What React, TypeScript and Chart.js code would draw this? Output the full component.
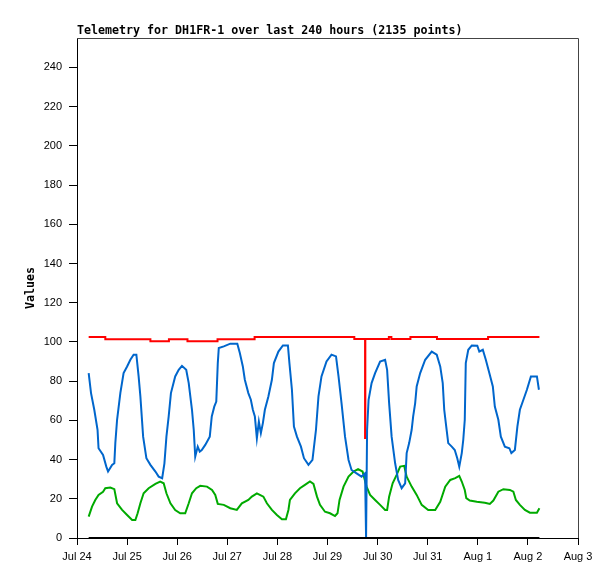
import React, { useEffect, useRef } from "react";
import { Chart, registerables } from "chart.js";

Chart.register(...registerables);

const TITLE = "Telemetry for DH1FR-1 over last 240 hours (2135 points)";
const Y_TITLE = "Values";
const X_LABELS = ["Jul 24", "Jul 25", "Jul 26", "Jul 27", "Jul 28", "Jul 29", "Jul 30", "Jul 31", "Aug 1", "Aug 2", "Aug 3"];
const Y_MIN = 0;
const Y_MAX = 255;
const Y_STEP = 20;

// x = days since Jul 24 00:00
const blueDays = [0.233, 0.28, 0.345, 0.41, 0.43, 0.52, 0.585, 0.62, 0.7, 0.745, 0.765, 0.8, 0.865, 0.93, 1.0, 1.065, 1.13, 1.185, 1.23, 1.265, 1.32, 1.385, 1.465, 1.565, 1.63, 1.7, 1.745, 1.785, 1.83, 1.875, 1.96, 2.03, 2.095, 2.18, 2.23, 2.295, 2.33, 2.36, 2.41, 2.45, 2.49, 2.56, 2.65, 2.69, 2.74, 2.78, 2.81, 2.83, 2.93, 3.06, 3.2, 3.25, 3.31, 3.35, 3.42, 3.47, 3.51, 3.55, 3.59, 3.63, 3.67, 3.71, 3.75, 3.82, 3.89, 3.93, 4.02, 4.11, 4.21, 4.24, 4.29, 4.33, 4.39, 4.47, 4.53, 4.62, 4.7, 4.77, 4.82, 4.88, 4.98, 5.08, 5.17, 5.22, 5.28, 5.35, 5.42, 5.48, 5.58, 5.68, 5.75, 5.77, 5.79, 5.82, 5.88, 5.95, 6.05, 6.15, 6.19, 6.23, 6.28, 6.35, 6.41, 6.48, 6.55, 6.58, 6.63, 6.68, 6.71, 6.75, 6.78, 6.85, 6.95, 7.08, 7.18, 7.25, 7.3, 7.33, 7.37, 7.41, 7.48, 7.54, 7.59, 7.63, 7.68, 7.71, 7.74, 7.76, 7.81, 7.88, 7.99, 8.03, 8.1, 8.16, 8.23, 8.3, 8.34, 8.41, 8.46, 8.54, 8.63, 8.67, 8.74, 8.79, 8.84, 8.91, 8.98, 9.06, 9.18, 9.22];
const blueValues = [84.1, 73.9, 65.4, 55.2, 45.8, 42.4, 36.4, 33.9, 37.3, 38.1, 48.4, 60.3, 73.9, 84.1, 87.5, 90.9, 93.5, 93.5, 82.4, 72.2, 51.7, 40.7, 37.3, 33.9, 31.3, 30.5, 38.1, 51.7, 62, 73.9, 82.4, 85.8, 87.8, 85.8, 79, 65.4, 55.2, 41.5, 46.6, 44.1, 44.9, 47.5, 51.7, 62, 67, 69.6, 89.2, 96.9, 97.7, 99.1, 99.1, 94.3, 87.5, 80.7, 73.9, 70.5, 65.4, 62, 50.9, 59.4, 53.5, 58.6, 65.4, 72.2, 80.7, 89.2, 95.1, 98.2, 98.2, 89.2, 75.6, 56.8, 51.7, 46.6, 40.7, 37.3, 39.8, 55.2, 72.2, 82.4, 90, 93.5, 92.6, 82.4, 68.8, 51.7, 39.8, 34.7, 33, 31.3, 33, 0, 55, 70.5, 79, 84.1, 90, 90.9, 85.8, 68.8, 51.7, 38.1, 29.6, 25.4, 27.9, 43.3, 48.4, 55.2, 62, 68.8, 77.3, 84.1, 90.9, 95.1, 93.5, 87.5, 79, 65.4, 56.8, 48.4, 46.6, 44.9, 40.7, 36.4, 43.3, 50.1, 60.3, 89.2, 96, 98.2, 98.1, 95.1, 96, 90.9, 84.1, 77.3, 67, 60.3, 51.7, 46.6, 45.8, 43.3, 44.9, 56.8, 65.4, 70.5, 75.6, 82.4, 82.4, 75.6];

const greenDays = [0.233, 0.3, 0.365, 0.43, 0.52, 0.565, 0.665, 0.745, 0.8, 0.9, 1.0, 1.1, 1.165, 1.21, 1.265, 1.33, 1.43, 1.565, 1.66, 1.73, 1.785, 1.865, 1.96, 2.06, 2.16, 2.23, 2.295, 2.38, 2.46, 2.595, 2.695, 2.76, 2.81, 2.93, 3.06, 3.19, 3.29, 3.42, 3.49, 3.59, 3.65, 3.72, 3.79, 3.89, 3.99, 4.09, 4.17, 4.22, 4.25, 4.35, 4.45, 4.55, 4.65, 4.72, 4.79, 4.85, 4.95, 5.05, 5.15, 5.2, 5.24, 5.32, 5.42, 5.52, 5.61, 5.7, 5.78, 5.85, 5.95, 6.05, 6.15, 6.19, 6.23, 6.3, 6.38, 6.45, 6.53, 6.58, 6.68, 6.78, 6.88, 7.01, 7.15, 7.25, 7.35, 7.45, 7.55, 7.63, 7.68, 7.74, 7.77, 7.84, 7.98, 8.14, 8.24, 8.31, 8.41, 8.51, 8.64, 8.71, 8.76, 8.84, 8.94, 9.04, 9.18, 9.23];
const greenValues = [10.9, 16, 19.4, 22, 23.6, 25.4, 25.7, 24.9, 17.7, 14.3, 11.7, 9.2, 9.2, 12.6, 17.7, 22.8, 25.4, 27.6, 28.8, 27.9, 22.8, 17.7, 14.3, 12.6, 12.6, 17.7, 22.8, 25.4, 26.6, 26.2, 24.5, 22, 17.4, 16.9, 15.2, 14.3, 17.7, 19.4, 21.1, 22.8, 22, 21.1, 17.7, 14.3, 11.7, 9.5, 9.5, 14.3, 19.4, 22.8, 25.4, 27.1, 28.8, 27.6, 21.1, 16.9, 13.4, 12.6, 11.2, 12.6, 19.4, 26.2, 31.3, 33.9, 35.1, 33.9, 26.2, 22, 19.4, 16.9, 14.3, 14.3, 21.1, 27.9, 32.2, 36.4, 36.8, 31.3, 26.2, 22, 16.9, 14.3, 14.3, 18.5, 26.2, 29.6, 30.5, 31.7, 28.8, 24.5, 20.3, 19.1, 18.5, 18, 17.4, 19.1, 23.6, 24.9, 24.5, 23.6, 19.4, 16.9, 14.3, 12.9, 12.9, 15.2];

// stepped series: each value holds from its x until the next x
const redDays = [0.233, 0.565, 1.465, 1.835, 2.205, 2.805, 3.545, 5.535, 5.75, 5.755, 6.225, 6.275, 6.655, 7.185, 8.205, 9.23];
const redValues = [102.5, 101.3, 100.3, 101.3, 100.3, 101.3, 102.5, 101.5, 51, 101.5, 102.5, 101.5, 102.5, 101.5, 102.5, 102.5];

const blackDays = [0.233, 9.23];
const blackValues = [0, 0];

const toPoints = (xs: number[], ys: number[]) => xs.map((x, i) => ({ x, y: ys[i] }));

const TICK_FONT = { family: '"Liberation Sans", Arial, sans-serif', size: 11 };
const LABEL_FONT = 'bold 11.65px "DejaVu Sans Mono", "Liberation Mono", monospace';

const decorPlugin = {
  id: "decor",
  afterDraw(chart: any) {
    const { ctx, chartArea } = chart;
    const { left, right, top, bottom } = chartArea;
    ctx.save();
    ctx.strokeStyle = "#444444";
    ctx.lineWidth = 1;
    ctx.beginPath();
    ctx.moveTo(left, Math.round(top) + 0.5);
    ctx.lineTo(Math.round(right) + 0.5, Math.round(top) + 0.5);
    ctx.lineTo(Math.round(right) + 0.5, bottom);
    ctx.stroke();

    ctx.fillStyle = "#000";
    ctx.font = LABEL_FONT;
    ctx.textAlign = "left";
    ctx.textBaseline = "alphabetic";
    ctx.fillText(TITLE, left, top - 4);

    ctx.translate(31, (top + bottom) / 2);
    ctx.rotate(-Math.PI / 2);
    ctx.textAlign = "center";
    ctx.textBaseline = "middle";
    ctx.fillText(Y_TITLE, 0, 0);
    ctx.restore();
  },
};

export default function App() {
  const ref = useRef<HTMLCanvasElement | null>(null);

  useEffect(() => {
    if (!ref.current) return;
    const line = (label: string, xs: number[], ys: number[], color: string, stepped = false) => ({
      label,
      data: toPoints(xs, ys),
      borderColor: color,
      backgroundColor: color,
      borderWidth: 2,
      pointRadius: 0,
      tension: 0,
      fill: false,
      stepped: stepped ? "before" : false,
    });
    const chart = new Chart(ref.current, {
      type: "line",
      data: {
        datasets: [
          line("zero", blackDays, blackValues, "#000000"),
          line("blue", blueDays, blueValues, "#0066cc"),
          line("red", redDays, redValues, "#ff0000", true),
          line("green", greenDays, greenValues, "#00aa00"),
        ] as any,
      },
      options: {
        animation: false,
        responsive: false,
        layout: { padding: { left: 0, top: 38, right: 37, bottom: 0 } },
        plugins: {
          legend: { display: false },
          tooltip: { enabled: false },
          title: { display: false },
        },
        scales: {
          x: {
            type: "linear",
            min: 0,
            max: X_LABELS.length - 1,
            afterFit: (s: any) => {
              s.height = 41;
            },
            ticks: {
              stepSize: 1,
              autoSkip: false,
              maxRotation: 0,
              color: "#000",
              font: TICK_FONT,
              padding: 5,
              callback: (v: any) => X_LABELS[Math.round(Number(v))] ?? "",
            },
            grid: { drawOnChartArea: false, drawTicks: true, tickLength: 7, color: "#000" },
            border: { display: true, color: "#000", width: 1 },
          },
          y: {
            type: "linear",
            min: Y_MIN,
            max: Y_MAX,
            afterFit: (s: any) => {
              s.width = 77;
            },
            ticks: {
              stepSize: Y_STEP,
              includeBounds: false,
              color: "#000",
              font: TICK_FONT,
              padding: 7,
            },
            grid: { drawOnChartArea: false, drawTicks: true, tickLength: 8, color: "#000" },
            border: { display: true, color: "#000", width: 1 },
          },
        },
      } as any,
      plugins: [decorPlugin],
    });
    return () => chart.destroy();
  }, []);

  return (
    <div style={{ position: "absolute", left: 0, top: 0, width: 615, height: 579, background: "#fff" }}>
      <canvas ref={ref} width={615} height={579} style={{ display: "block", width: 615, height: 579 }} />
    </div>
  );
}
